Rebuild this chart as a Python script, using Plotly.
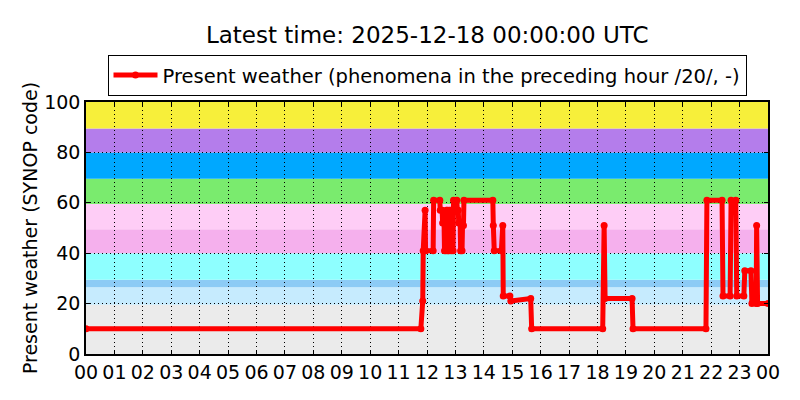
import plotly.graph_objects as go

# --- data -------------------------------------------------------------
# observation times (minutes after 00:00 UTC) and present weather codes
obs_minutes = [0, 707, 711, 712, 716, 717, 733, 734, 747, 748, 752, 753, 756, 757,
               760, 761, 763, 764, 766, 767, 770, 771, 775, 776, 783, 784, 786, 787,
               790, 791, 794, 795, 797, 798, 859, 860, 862, 877, 880, 881, 895, 897,
               939, 941, 1091, 1094, 1096, 1153, 1155, 1309, 1311, 1343, 1345,
               1360, 1362, 1372, 1374, 1389, 1391, 1404, 1406, 1415, 1416, 1418, 1440]
ww_code = [10, 10, 21, 41, 57, 41, 41, 61, 61, 57, 57, 52, 52, 41,
           41, 57, 57, 41, 41, 57, 57, 41, 41, 61, 61, 57, 57, 52,
           52, 41, 41, 51, 51, 61, 61, 51, 41, 41, 51, 23, 23, 21,
           22, 10, 10, 51, 22, 22, 10, 10, 61, 61, 23,
           23, 61, 61, 23, 23, 33, 33, 20, 20, 51, 20, 20]

tick_hours = list(range(0, 25))
tick_labels = ["%02d" % (h % 24) for h in tick_hours]
y_ticks = [0, 20, 40, 60, 80, 100]

# weather-code background bands (lower edge, upper edge, colour)
band_lo = [0, 19.5, 26.5, 29.5, 40, 49.5, 59.5, 69.5, 80, 89.5]
band_hi = [19.5, 26.5, 29.5, 40, 49.5, 59.5, 69.5, 80, 89.5, 100]
band_col = ["#ebebeb", "#c6ebfe", "#8ccbf5", "#8effff", "#f5b0ed",
            "#fecdf6", "#7aeb6e", "#00a8ff", "#b47deb", "#f7ef3a"]

FONT = "DejaVu Sans, sans-serif"

hours = [m / 60.0 for m in obs_minutes]

fig = go.Figure()
fig.add_trace(go.Scatter(
    x=hours, y=ww_code, mode="lines+markers",
    name="Present weather (phenomena in the preceding hour /20/, -)",
    line=dict(color="#ff0000", width=5),
    marker=dict(color="#ff0000", size=7),
))

for lo, hi, c in zip(band_lo, band_hi, band_col):
    fig.add_shape(type="rect", xref="x domain", yref="y", x0=0, x1=1, y0=lo, y1=hi,
                  fillcolor=c, line_width=0, layer="below")

fig.update_layout(
    width=800, height=400,
    margin=dict(l=78, r=40, t=94, b=54),
    paper_bgcolor="white", plot_bgcolor="white",
    font=dict(family=FONT, size=19, color="black"),
    title=dict(text="Latest time: 2025-12-18 00:00:00 UTC", x=0.524, xanchor="center",
               y=1 - 27 / 400, yanchor="middle", font=dict(size=23, family=FONT)),
    showlegend=True,
    legend=dict(x=0.5, xanchor="center", y=1.187, yanchor="top",
                bordercolor="black", borderwidth=1, bgcolor="white",
                font=dict(size=19.5, family=FONT), itemwidth=44),
    xaxis=dict(range=[0, 24], tickvals=tick_hours, ticktext=tick_labels,
               showgrid=True, gridcolor="black", griddash="1px,3px", gridwidth=1,
               ticks="inside", ticklen=4, tickcolor="black",
               showline=True, linecolor="black", linewidth=1.5, mirror="ticks",
               zeroline=False, tickfont=dict(size=19)),
    yaxis=dict(range=[0, 100], tickvals=y_ticks,
               showgrid=True, gridcolor="black", griddash="1px,3px", gridwidth=1,
               ticks="inside", ticklen=4, tickcolor="black",
               showline=True, linecolor="black", linewidth=1.5, mirror="ticks",
               zeroline=False, tickfont=dict(size=19),
               title=dict(text="Present weather (SYNOP code)", font=dict(size=19), standoff=2)),
)

fig.write_html("out.html")
